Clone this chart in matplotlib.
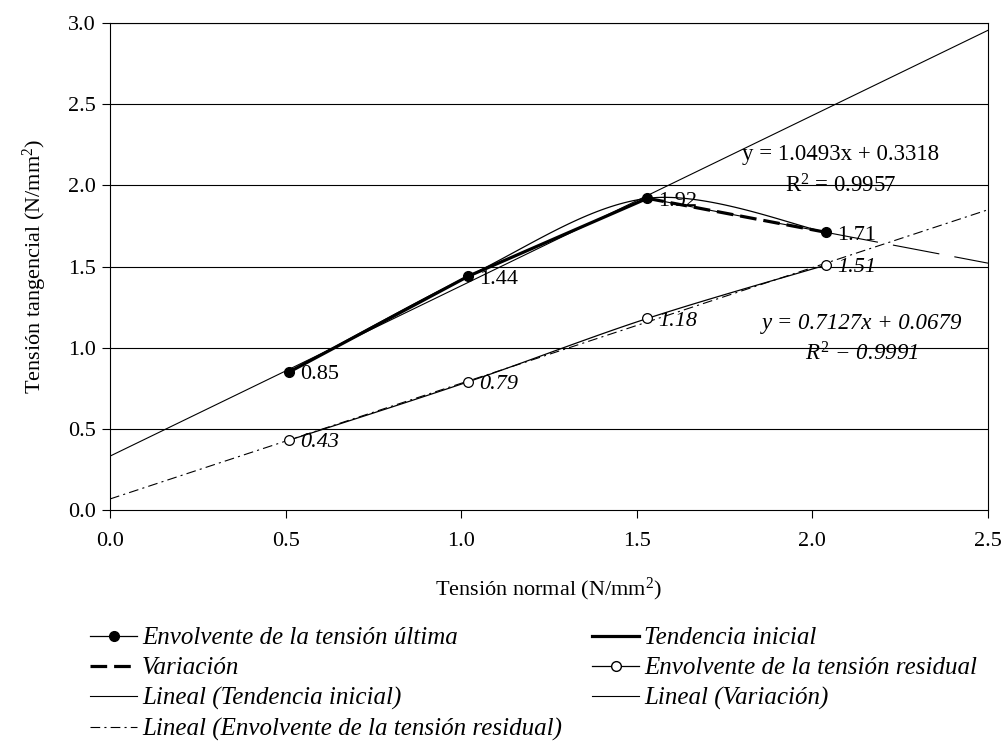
import numpy as np
import matplotlib
matplotlib.use("Agg")
import matplotlib.pyplot as plt
from matplotlib.lines import Line2D

plt.rcParams['font.family'] = ['Liberation Serif', 'DejaVu Serif']
plt.rcParams['mathtext.fontset'] = 'custom'
plt.rcParams['mathtext.rm'] = 'Liberation Serif'
plt.rcParams['mathtext.it'] = 'Liberation Serif:italic'
plt.rcParams['lines.scale_dashes'] = False

# ---- data ----
x_norm = [0.51, 1.02, 1.53, 2.04]
tau_ultima = [0.85, 1.44, 1.92, 1.71]
tau_residual = [0.43, 0.79, 1.18, 1.51]
ultima_labels = ["0.85", "1.44", "1.92", "1.71"]
residual_labels = ["0.43", "0.79", "1.18", "1.51"]
x_tend = [0.51, 1.02, 1.53]
y_tend = [0.85, 1.44, 1.92]
x_var = [1.53, 2.04]
y_var = [1.92, 1.71]
fit_tend = [1.0493, 0.3318]   # slope, intercept
fit_res = [0.7127, 0.0679]
x_ticks = [0.0, 0.5, 1.0, 1.5, 2.0, 2.5]
y_ticks = [0.0, 0.5, 1.0, 1.5, 2.0, 2.5, 3.0]

FS = 16
FS_EQ = 16.5
FS_LEG = 18

DASH_VAR = [12, 5]
DASH_RES = [7, 3, 1.5, 3]


def smooth(xs, ys, n=40):
    """Excel-like smoothed (Bezier) line through points."""
    P = np.column_stack([xs, ys]).astype(float)
    P_ext = np.vstack([P[0], P, P[-1]])
    out = []
    t = np.linspace(0, 1, n)[:, None]
    for i in range(len(P) - 1):
        p0, p1, p2, p3 = P_ext[i], P_ext[i + 1], P_ext[i + 2], P_ext[i + 3]
        c1 = p1 + (p2 - p0) / 6.0
        c2 = p2 - (p3 - p1) / 6.0
        seg = ((1 - t) ** 3) * p1 + 3 * ((1 - t) ** 2) * t * c1 + 3 * (1 - t) * t ** 2 * c2 + t ** 3 * p2
        out.append(seg if i == 0 else seg[1:])
    arr = np.vstack(out)
    return arr[:, 0], arr[:, 1]


fig = plt.figure(figsize=(10.01, 7.46), dpi=100)
ax = fig.add_axes([110 / 1001, 1 - 510 / 746, (988 - 110) / 1001, (510 - 23) / 746])

# grid
for yv in y_ticks[1:]:
    ax.axhline(yv, color='black', lw=0.8, zorder=0)

# trendlines
xl = np.array([0.0, 2.5])
ax.plot(xl, fit_tend[0] * xl + fit_tend[1], color='black', lw=0.8, zorder=2)
ax.plot(xl, fit_res[0] * xl + fit_res[1], color='black', lw=0.8,
        dashes=DASH_RES, zorder=2)
sl = (y_var[1] - y_var[0]) / (x_var[1] - x_var[0])
xv = np.array([x_var[0], 2.5])
ax.plot(xv, y_var[0] + sl * (xv - x_var[0]), color='black', lw=0.8,
        dashes=[34, 11], zorder=2)

# smoothed envelopes
sx, sy = smooth(x_norm, tau_ultima)
ax.plot(sx, sy, color='black', lw=0.9, zorder=3)
rx, ry = smooth(x_norm, tau_residual)
ax.plot(rx, ry, color='black', lw=0.9, zorder=3)

# thick lines
ax.plot(x_tend, y_tend, color='black', lw=2.3, zorder=4, solid_capstyle='butt')
ax.plot(x_var, y_var, color='black', lw=2.3, dashes=DASH_VAR, zorder=4)

# markers
ax.plot(x_norm, tau_ultima, ls='none', marker='o', ms=7, mfc='black', mec='black', zorder=5)
ax.plot(x_norm, tau_residual, ls='none', marker='o', ms=7, mfc='white', mec='black', mew=0.9, zorder=5)

# data labels
for xx, yy, lab in zip(x_norm, tau_ultima, ultima_labels):
    ax.annotate(lab, (xx, yy), xytext=(8, -2), textcoords='offset points',
                ha='left', va='center', fontsize=FS)
for xx, yy, lab in zip(x_norm, tau_residual, residual_labels):
    ax.annotate(lab, (xx, yy), xytext=(8, -2), textcoords='offset points',
                ha='left', va='center', fontsize=FS, style='italic')

# equations
ax.text(2.081, 2.19, 'y = 1.0493x + 0.3318', ha='center', va='center', fontsize=FS_EQ)
ax.text(2.080, 1.995, r'R$^2$ = 0.9957', ha='center', va='center', fontsize=FS_EQ)
ax.text(2.141, 1.15, 'y = 0.7127x + 0.0679', ha='center', va='center', fontsize=FS_EQ, style='italic')
ax.text(2.141, 0.96, r'$R^2$ = 0.9991', ha='center', va='center', fontsize=FS_EQ, style='italic')

ax.set_xlim(0, 2.5)
ax.set_ylim(0, 3.0)
ax.set_xticks(x_ticks)
ax.set_yticks(y_ticks)
ax.set_xticklabels([f"{v:.1f}" for v in x_ticks], fontsize=FS)
ax.set_yticklabels([f"{v:.1f}" for v in y_ticks], fontsize=FS)
ax.tick_params(direction='out', length=6, width=0.8, color='black')
ax.tick_params(axis='x', pad=10)
ax.tick_params(axis='y', pad=4)
for s in ax.spines.values():
    s.set_color('black')
    s.set_linewidth(0.8)

ax.set_xlabel(r'Tensión normal (N/mm$^2$)', fontsize=FS, labelpad=18)
ax.set_ylabel(r'Tensión tangencial (N/mm$^2$)', fontsize=FS, labelpad=14)

# legend (two columns as two legends)
h_ult = Line2D([], [], color='black', lw=0.9, marker='o', ms=7, mfc='black')
h_ti = Line2D([], [], color='black', lw=2.3)
h_var = Line2D([], [], color='black', lw=2.3, dashes=DASH_VAR)
h_res = Line2D([], [], color='black', lw=0.9, marker='o', ms=7, mfc='white')
h_lti = Line2D([], [], color='black', lw=0.8)
h_lvar = Line2D([], [], color='black', lw=0.8)
h_lres = Line2D([], [], color='black', lw=0.8, dashes=DASH_RES)

left_h = [h_ult, h_var, h_lti, h_lres]
left_l = ['Envolvente de la tensión última', 'Variación', 'Lineal (Tendencia inicial)',
          'Lineal (Envolvente de la tensión residual)']
right_h = [h_ti, h_res, h_lvar]
right_l = ['Tendencia inicial', 'Envolvente de la tensión residual', 'Lineal (Variación)']

leg_kw = dict(loc='upper left', frameon=False,
              prop={'family': 'Liberation Serif', 'style': 'italic', 'size': FS_LEG},
              handlelength=1.88, handletextpad=0.2, labelspacing=0.3,
              borderaxespad=0, borderpad=0)
leg1 = fig.legend(left_h, left_l, bbox_to_anchor=(90 / 1001, 1 - 627 / 746), **leg_kw)
leg2 = fig.legend(right_h, right_l, bbox_to_anchor=(592 / 1001, 1 - 627 / 746), **leg_kw)

fig.savefig('out.png', dpi=100)
